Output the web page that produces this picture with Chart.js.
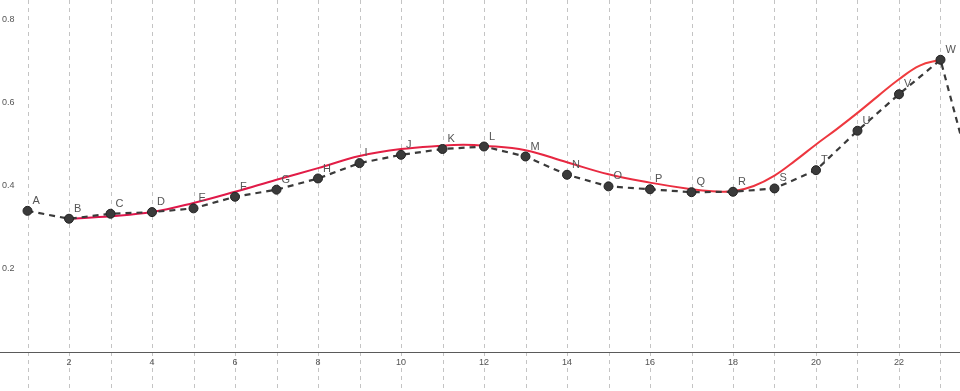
<!DOCTYPE html>
<html>
<head>
<meta charset="utf-8">
<script src="https://cdn.jsdelivr.net/npm/chart.js@4/dist/chart.umd.min.js"></script>
<style>
html,body{margin:0;padding:0;background:#fff;}
#wrap{width:960px;height:391px;position:relative;}
</style>
</head>
<body>
<div id="wrap"><canvas id="c" width="960" height="391"></canvas></div>
<script>
// Point labels and values (dashed series)
const pointLabels = ['A','B','C','D','E','F','G','H','I','J','K','L','M','N','O','P','Q','R','S','T','U','V','W','X'];
const pointX = [1,2,3,4,5,6,7,8,9,10,11,12,13,14,15,16,17,18,19,20,21,22,23,24];
const pointY = [0.340,0.321,0.333,0.337,0.346,0.374,0.391,0.418,0.455,0.475,0.489,0.495,0.471,0.427,0.399,0.392,0.385,0.386,0.394,0.438,0.533,0.621,0.704,0.330];

// Smooth (red) curve samples
const curveX = [2,3,4,5,6,7,8,9,10,11,11.5,12,13,14,15,16,17,17.5,18,18.5,19,19.5,20,20.5,21,21.5,22,22.5,23];
const curveY = [0.321,0.327,0.337,0.359,0.386,0.415,0.443,0.472,0.489,0.497,0.499,0.497,0.486,0.457,0.428,0.408,0.392,0.387,0.387,0.400,0.425,0.461,0.500,0.537,0.576,0.617,0.657,0.690,0.704];

// Axis ticks
const xTickLabels = ['2','4','6','8','10','12','14','16','18','20','22'];
const xTickValues = [2,4,6,8,10,12,14,16,18,20,22];
const yTickLabels = ['0.2','0.4','0.6','0.8'];
const yTickValues = [0.2,0.4,0.6,0.8];
const gridXValues = [1,2,3,4,5,6,7,8,9,10,11,12,13,14,15,16,17,18,19,20,21,22,23];

const curveData = curveX.map((x,i)=>({x:x,y:curveY[i]}));
const pointData = pointX.map((x,i)=>({x:x,y:pointY[i]}));

const backgroundPlugin = {
  id:'bg',
  beforeDatasetsDraw(chart){
    const ctx = chart.ctx, xs = chart.scales.x, ys = chart.scales.y;
    ctx.save();
    // vertical dashed grid
    ctx.strokeStyle = '#c4c4c4';
    ctx.lineWidth = 1;
    ctx.setLineDash([4,4]);
    gridXValues.forEach(v=>{
      const px = Math.round(xs.getPixelForValue(v))+0.5;
      ctx.beginPath(); ctx.moveTo(px,0); ctx.lineTo(px,chart.height); ctx.stroke();
    });
    ctx.setLineDash([]);
    // x axis line
    const y0 = Math.round(ys.getPixelForValue(0))+0.5;
    ctx.strokeStyle = '#5a5a5a';
    ctx.lineWidth = 1.2;
    ctx.beginPath(); ctx.moveTo(0,y0); ctx.lineTo(chart.width,y0); ctx.stroke();
    // x tick labels
    ctx.fillStyle = '#555';
    ctx.font = '9px "Liberation Sans", Arial, sans-serif';
    ctx.textAlign = 'center'; ctx.textBaseline = 'middle';
    xTickValues.forEach((v,i)=>{
      ctx.fillText(xTickLabels[i], xs.getPixelForValue(v), y0+10);
    });
    // y tick labels
    ctx.textAlign = 'left';
    yTickValues.forEach((v,i)=>{
      ctx.fillText(yTickLabels[i], 2, ys.getPixelForValue(v));
    });
    ctx.restore();
  },
  afterDatasetsDraw(chart){
    const ctx = chart.ctx, xs = chart.scales.x, ys = chart.scales.y;
    ctx.save();
    ctx.fillStyle = '#555';
    ctx.font = '11px "Liberation Sans", Arial, sans-serif';
    ctx.textAlign = 'left'; ctx.textBaseline = 'middle';
    pointX.forEach((v,i)=>{
      ctx.fillText(pointLabels[i], xs.getPixelForValue(v)+5, ys.getPixelForValue(pointY[i])-10);
    });
    ctx.restore();
  }
};

const ctx = document.getElementById('c').getContext('2d');
const grad = ctx.createLinearGradient(60,0,940,0);
grad.addColorStop(0,'rgb(220,18,76)');
grad.addColorStop(0.5,'rgb(230,36,66)');
grad.addColorStop(1,'rgb(240,62,62)');

new Chart(ctx,{
  type:'line',
  data:{
    datasets:[
      {
        label:'curve',
        data:curveData,
        borderColor:grad,
        borderWidth:2,
        pointRadius:0,
        tension:0.4,
        fill:false,
        order:2
      },
      {
        label:'points',
        data:pointData,
        borderColor:'#3a3a3a',
        borderWidth:2.2,
        borderDash:[6,5],
        pointRadius:4.5,
        pointBackgroundColor:'#3a3a3a',
        pointBorderColor:'#222',
        pointBorderWidth:1,
        tension:0,
        fill:false,
        order:1
      }
    ]
  },
  options:{
    responsive:false,
    animation:false,
    events:[],
    layout:{padding:0, autoPadding:false},
    plugins:{legend:{display:false},tooltip:{enabled:false}},
    scales:{
      x:{type:'linear',min:0.337,max:23.47,display:false},
      y:{type:'linear',min:-0.094,max:0.848,display:false}
    }
  },
  plugins:[backgroundPlugin]
});
</script>
</body>
</html>
